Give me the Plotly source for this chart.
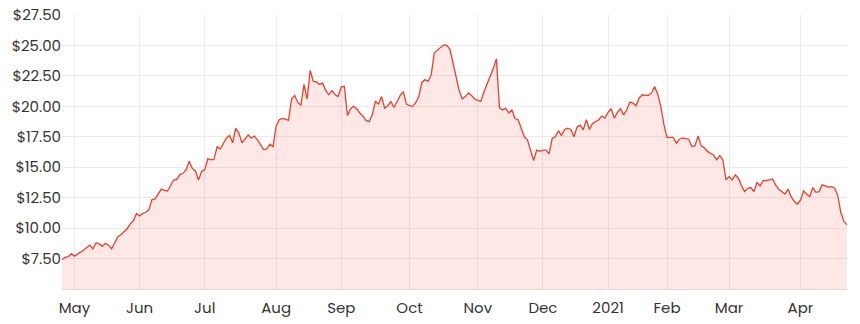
import pandas as pd
import plotly.graph_objects as go

# ASX trading calendar for the period shown
start_date = "2020-04-27"
end_date = "2021-04-27"
holidays = ["2020-06-08", "2020-12-25", "2020-12-28", "2021-01-01",
            "2021-01-26", "2021-04-02", "2021-04-05", "2021-04-26"]

# Closing prices (AUD), one per trading day
prices = [
    7.43, 7.6, 7.65, 7.9, 7.7, 7.85, 8.0, 8.2, 8.4, 8.6,
    8.3, 8.8, 8.7, 8.5, 8.75, 8.6, 8.3, 8.75, 9.3, 9.45,
    9.7, 9.95, 10.35, 10.6, 11.2, 11.0, 11.2, 11.3, 11.5, 12.35,
    12.4, 12.75, 13.2, 13.1, 13.05, 13.5, 13.95, 14.0, 14.4, 14.5,
    14.8, 15.5, 14.9, 14.7, 13.95, 14.65, 14.8, 15.7, 15.6, 15.65,
    16.7, 16.5, 16.9, 17.4, 17.6, 17.0, 18.2, 17.8, 17.0, 17.3,
    17.65, 17.4, 17.55, 17.25, 16.85, 16.45, 16.5, 16.9, 16.7, 18.35,
    18.9, 19.0, 18.95, 18.85, 20.6, 20.9, 20.3, 20.1, 21.8, 20.6,
    22.95, 22.05, 22.0, 21.8, 21.9, 21.3, 20.95, 21.3, 20.95, 20.8,
    21.6, 21.65, 19.25, 19.8, 20.0, 19.8, 19.45, 19.2, 18.85, 18.75,
    19.3, 20.4, 20.2, 20.8, 19.85, 20.05, 20.4, 19.9, 20.4, 20.9,
    21.2, 20.2, 20.05, 20.0, 20.3, 20.8, 21.96, 22.2, 22.05, 22.6,
    24.4, 24.6, 24.8, 25.05, 25.0, 24.7, 23.6, 22.5, 21.3, 20.6,
    20.8, 21.1, 20.9, 20.6, 20.5, 20.4, 21.2, 21.8, 22.5, 23.1,
    23.9, 19.9, 19.7, 19.85, 19.45, 19.7, 19.0, 18.9, 18.2, 17.5,
    17.25, 16.3, 15.55, 16.4, 16.3, 16.4, 16.4, 16.1, 17.4, 17.5,
    18.0, 17.6, 18.1, 18.2, 18.1, 17.5, 18.3, 18.45, 18.07, 18.9,
    18.1, 18.6, 18.75, 18.9, 19.2, 19.03, 19.5, 19.8, 19.03, 19.5,
    19.8, 19.3, 19.7, 20.35, 20.26, 20.05, 20.67, 20.95, 20.9, 20.9,
    21.1, 21.63, 21.0, 20.0, 18.5, 17.45, 17.45, 17.45, 16.97, 17.3,
    17.4, 17.35, 17.3, 16.7, 16.75, 17.57, 16.75, 16.6, 16.3, 16.15,
    16.0, 15.6, 15.95, 15.6, 13.96, 14.23, 13.96, 14.37, 14.1, 13.5,
    13.0, 13.27, 13.33, 13.0, 13.75, 13.47, 13.9, 13.9, 14.0, 14.04,
    13.55, 13.2, 13.0, 12.8, 13.2, 12.59, 12.2, 11.98, 12.3, 13.05,
    12.8, 12.59, 13.33, 12.94, 13.0, 13.55, 13.47, 13.36, 13.41, 13.3,
    12.7, 11.3, 10.55, 10.26,
]

y_ticks = [7.5, 10.0, 12.5, 15.0, 17.5, 20.0, 22.5, 25.0, 27.5]
y_tick_labels = ["$7.50", "$10.00", "$12.50", "$15.00", "$17.50",
                 "$20.00", "$22.50", "$25.00", "$27.50"]

days = [d for d in pd.bdate_range(start_date, end_date)
        if d.strftime("%Y-%m-%d") not in holidays]
n = min(len(days), len(prices))
days = days[:n]
prices = prices[:n]
x = list(range(n))

tick_vals, tick_text = [], []
for i in range(1, n):
    if days[i].month != days[i - 1].month:
        tick_vals.append(i)
        tick_text.append(str(days[i].year) if days[i].month == 1 else days[i].strftime("%b"))

font_family = "Poppins, 'Open Sans', sans-serif"

fig = go.Figure()
fig.add_trace(go.Scatter(
    x=x, y=prices, mode="lines",
    line=dict(color="#e8402c", width=1.3),
    fill="tozeroy", fillcolor="rgba(240,80,60,0.13)",
    customdata=[d.strftime("%d %b %Y") for d in days],
    hovertemplate="%{customdata}<br>$%{y:.2f}<extra></extra>",
))

fig.update_layout(
    width=860, height=324,
    margin=dict(l=62, r=13, t=15, b=35),
    paper_bgcolor="white", plot_bgcolor="white",
    showlegend=False,
    font=dict(family=font_family, size=15, color="#333333"),
    xaxis=dict(
        range=[0, n - 1], tickvals=tick_vals, ticktext=tick_text,
        showgrid=True, gridcolor="#ebebeb", gridwidth=1,
        showline=True, linecolor="#dcdcdc", linewidth=1,
        zeroline=False, ticks="", fixedrange=True, automargin=False,
        ticklabelstandoff=5,
        tickfont=dict(size=15, color="#333333"),
    ),
    yaxis=dict(
        range=[5, 27.5], tickvals=y_ticks, ticktext=y_tick_labels,
        showgrid=True, gridcolor="#ebebeb", gridwidth=1,
        zeroline=False, ticks="", fixedrange=True, automargin=False,
        tickfont=dict(size=15, color="#333333"),
    ),
)

fig.write_html("out.html")
